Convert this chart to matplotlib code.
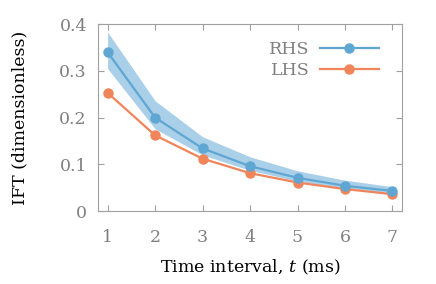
import numpy as np
import matplotlib
matplotlib.use("Agg")
import matplotlib.pyplot as plt

# data
t = [1, 2, 3, 4, 5, 6, 7]
rhs = [0.340, 0.200, 0.134, 0.096, 0.071, 0.054, 0.043]
rhs_hi = [0.383, 0.236, 0.159, 0.116, 0.086, 0.066, 0.052]
rhs_lo = [0.305, 0.176, 0.120, 0.087, 0.064, 0.049, 0.038]
lhs = [0.253, 0.162, 0.112, 0.081, 0.061, 0.047, 0.036]

blue = "#5fa6d3"
orange = "#f0845a"
grey = "#808080"

plt.rcParams["font.family"] = ["DejaVu Serif"]
plt.rcParams["mathtext.fontset"] = "dejavuserif"

fig, ax = plt.subplots(figsize=(4.36, 2.84), dpi=100)
fig.subplots_adjust(left=0.225, right=0.922, top=0.915, bottom=0.257)

ax.fill_between(t, rhs_lo, rhs_hi, color="#a9d0e8", lw=0, zorder=1)
ax.plot(t, rhs, color=blue, lw=1.6, marker="o", ms=6.5, label="RHS", zorder=3)
ax.plot(t, lhs, color=orange, lw=1.6, marker="o", ms=6.5, label="LHS", zorder=2)

ax.set_xlim(0.8, 7.2)
ax.set_ylim(0, 0.4)
ax.set_xticks(t)
ax.set_yticks([0, 0.1, 0.2, 0.3, 0.4])
ax.set_yticklabels(["0", "0.1", "0.2", "0.3", "0.4"])

for s in ax.spines.values():
    s.set_color("#a0a0a0")
ax.tick_params(direction="in", top=True, right=True, length=4, color="#a0a0a0",
               labelcolor=grey, labelsize=12.5)
ax.tick_params(axis="x", pad=13)
ax.tick_params(axis="y", pad=8)

ax.set_xlabel("Time interval, $t$ (ms)", fontsize=12.5)
ax.set_ylabel("IFT (dimensionless)", fontsize=12.5)
ax.xaxis.set_label_coords(0.5, -0.25)
ax.yaxis.set_label_coords(-0.23, 0.5)

leg = ax.legend(loc="upper right", frameon=False, markerfirst=False, fontsize=12.5,
                handlelength=3.4, handletextpad=0.6, labelspacing=0.25,
                bbox_to_anchor=(0.975, 0.995))
for txt in leg.get_texts():
    txt.set_color(grey)

fig.savefig("out.png", dpi=100)
